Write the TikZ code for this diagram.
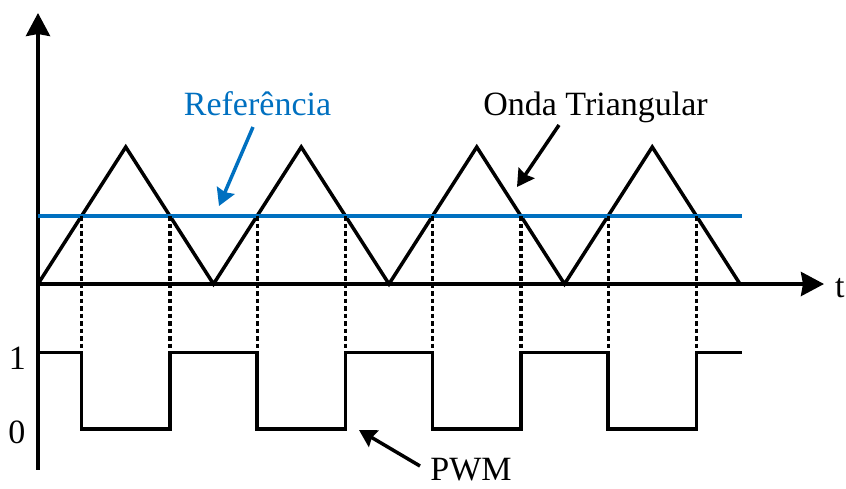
\documentclass[tikz,border=0pt]{standalone}
\usepackage{fontspec}
\setmainfont{Liberation Serif}
\usetikzlibrary{arrows.meta}
\definecolor{refblue}{RGB}{0,112,192}
\begin{document}
\begin{tikzpicture}[x=1pt,y=-1pt,
  axis/.style={line width=3.8pt,-{Stealth[length=23pt,width=24pt,inset=2pt]}},
  wave/.style={line width=3.5pt,line join=miter},
  refline/.style={line width=3.6pt,refblue},
  guide/.style={line width=3.2pt,dash pattern=on 4.5pt off 3pt},
  pointer/.style={line width=3.5pt,-{Stealth[length=17pt,width=19pt,inset=2pt]}},
  lbl/.style={font=\fontsize{34}{34}\selectfont,inner sep=0pt,anchor=base}]
\useasboundingbox (0,0) rectangle (846,488);
% axes
\coordinate (o) at (38,284);
\coordinate (ytop) at (38,13);
\coordinate (ybot) at (38,470);
\coordinate (xend) at (824,284);
\draw[line width=3.8pt] (o) -- (ybot);
\draw[axis] (o) -- (ytop);
\draw[axis] (o) -- (xend);
% triangle wave
\coordinate (v0) at (38,284);
\coordinate (p1) at (125.75,147);
\coordinate (v1) at (213.5,284);
\coordinate (p2) at (301.25,147);
\coordinate (v2) at (389,284);
\coordinate (p3) at (476.75,147);
\coordinate (v3) at (564.5,284);
\coordinate (p4) at (652.25,147);
\coordinate (v4) at (740,284);
\draw[wave] (v0) -- (p1) -- (v1) -- (p2) -- (v2) -- (p3) -- (v3) -- (p4) -- (v4);
% reference
\coordinate (rs) at (38,216);
\coordinate (re) at (742,216);
\draw[refline] (rs) -- (re);
% crossings
\foreach \i/\x in {1/81.6,2/170,3/257.1,4/345.5,5/432.6,6/521,7/608.1,8/696.5}{
  \coordinate (c\i) at (\x,216);
  \coordinate (h\i) at (\x,352.5);
  \coordinate (l\i) at (\x,429);
  \draw[guide] (c\i) -- (h\i);
}
% PWM
\coordinate (ps) at (38,352.5);
\coordinate (pe) at (742,352.5);
\draw[wave] (ps) -- (h1) -- (l1) -- (l2) -- (h2) -- (h3) -- (l3) -- (l4) -- (h4) -- (h5) -- (l5) -- (l6) -- (h6) -- (h7) -- (l7) -- (l8) -- (h8) -- (pe);
% labels
\node[lbl] (one) at (17.5,369) {1};
\node[lbl] (zero) at (17,443) {0};
\node[lbl,anchor=base west] (t) at (835,297) {t};
\node[lbl,text=refblue] (reflbl) at (257.5,115) {Referência};
\node[lbl] (ondalbl) at (595.5,115) {Onda Triangular};
\node[lbl] (pwmlbl) at (471,480) {PWM};
% pointers
\coordinate (ra) at (253,127);
\coordinate (rb) at (219,206);
\draw[pointer,refblue] (ra) -- (rb);
\coordinate (oa) at (559,125);
\coordinate (ob) at (517,187);
\draw[pointer] (oa) -- (ob);
\coordinate (wa) at (420,466);
\coordinate (wb) at (359,430);
\draw[pointer] (wa) -- (wb);
\end{tikzpicture}
\end{document}
